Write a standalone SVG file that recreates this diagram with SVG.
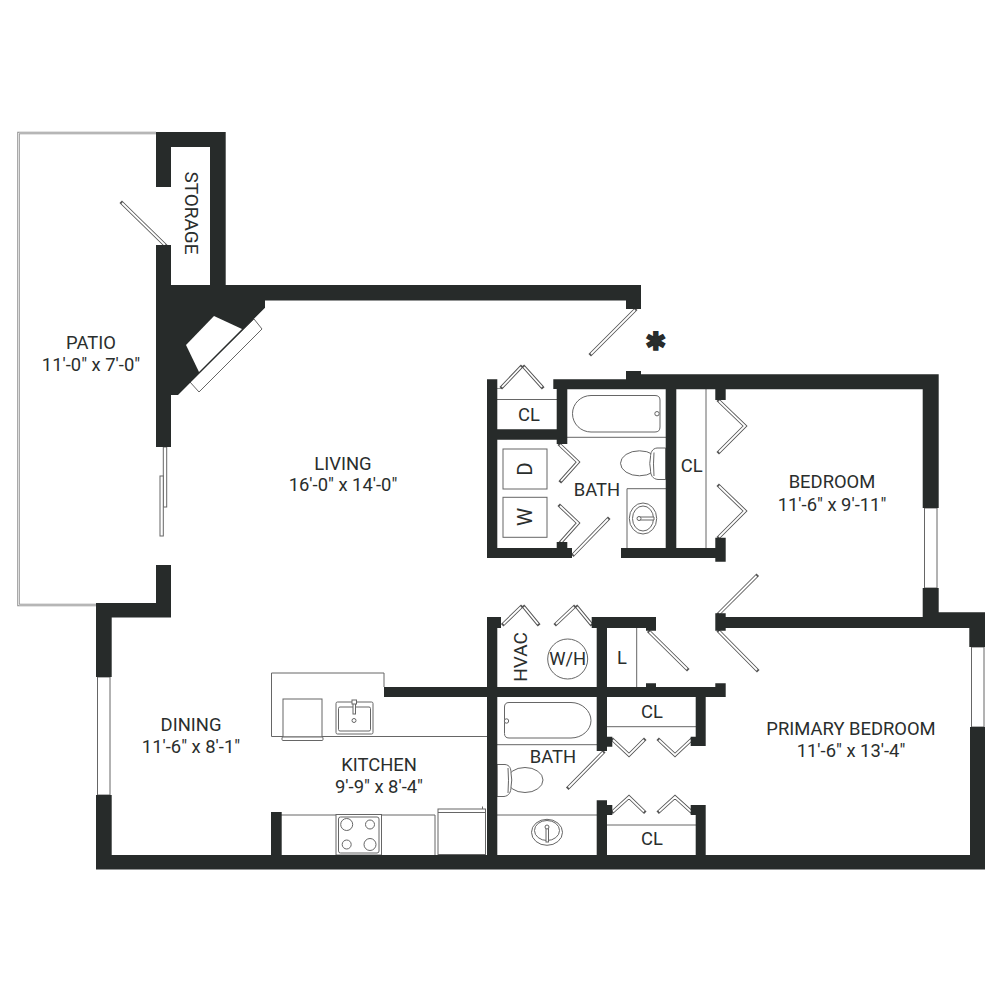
<svg xmlns="http://www.w3.org/2000/svg" width="1000" height="1000" viewBox="0 0 1000 1000">
<style>
.w{fill:#272b2a}
.h{fill:#fff}
.f{fill:#fff;stroke:#666;stroke-width:1}
.l{fill:none;stroke:#666;stroke-width:1}
.lo{fill:none;stroke:#555;stroke-width:3.6;stroke-linecap:square;stroke-linejoin:miter}
.li{fill:none;stroke:#fff;stroke-width:1.8}
text{font-family:Roboto,"Liberation Sans",sans-serif;font-size:18.400px;fill:#2a2e2d;text-anchor:middle}
.r{font-size:19px}
.a{font-size:20.500px}
</style>
<defs>
<path id="leaves" d="M122 203L165 245M635 310L591 354M502 387L521 367M524 367L542 387M560 445L578 462L561 481M560 506L578 523L561 542M573.500 554.500L608 519M719 401L745 426L719 452M719 486L745 511L719 537M719 613.500L756.500 576M719 631.500L757 670M503.500 624L521 607M524 607L538 624M556 624L574 607M577 607L591 624M649.500 632L687 669M603 752.500L568.500 787.500M613 740L629 755L644 740M659 740L675 755L691 740M613 811.500L629 797L644 811.500M659 811.500L675 797L691 811.500"/>
</defs>
<g id="patio-rail">
<path d="M156 133H18.500V605H96" fill="none" stroke="#8f8f8f" stroke-width="2.500"/>
<path d="M156 133H18.500V605H96" fill="none" stroke="#fff" stroke-width="0.700"/>
</g>
<g id="fixtures">
<path class="l" d="M384 687V673H271.500V736.500H487"/>
<rect class="f" x="283" y="699" width="39" height="38"/>
<rect class="f" x="282" y="737" width="41" height="3.500" rx="1"/>
<rect class="f" x="336" y="702" width="37" height="32" rx="1.500"/>
<rect class="f" x="338.500" y="707" width="32" height="24" rx="1.500"/>
<rect class="f" x="353" y="701" width="2.500" height="13"/>
<rect class="f" x="352" y="700" width="4.500" height="4"/>
<circle class="f" cx="354" cy="720.500" r="2"/>
<path class="l" d="M281 815H435V855"/>
<rect class="f" x="336" y="814.500" width="45.500" height="40.500"/>
<rect class="f" x="338.500" y="817" width="40.500" height="36" rx="2"/>
<circle class="f" cx="346.700" cy="824.500" r="6"/>
<circle class="f" cx="370" cy="824.500" r="4.500"/>
<circle class="f" cx="346.700" cy="844.500" r="4.500"/>
<circle class="f" cx="370" cy="844.500" r="6"/>
<rect class="f" x="438" y="809" width="47.500" height="45.500"/>
<path class="l" d="M438 812.500H485.500M482.500 809V806.500"/>
<path class="l" d="M497 399.500H557M567 437.300H666M706 389V548M627 548V488.700H666"/>
<path class="f" d="M591 395.500H655Q660 395.500 660 400V427Q660 432 655 432H591C581 432 572.500 424 572.500 413.700S581 395.500 591 395.500Z"/>
<circle class="f" cx="657" cy="413.700" r="2.200"/>
<ellipse class="f" cx="639.500" cy="463.300" rx="19" ry="12.500"/>
<path class="f" d="M665.700 448H657C652 448.500 650.500 453 650.500 457Q649 463.500 650.500 470C650.500 475 652.500 479 658 479.500H665.700Z"/>
<path class="l" d="M654 452.500Q653 463.500 654 476"/>
<ellipse class="f" cx="643" cy="518.500" rx="13.700" ry="15.500"/>
<ellipse class="f" cx="643" cy="518.500" rx="10.500" ry="12.500"/>
<path class="f" d="M638 517H654V520H638Z"/>
<circle class="f" cx="639" cy="518.500" r="2"/>
<rect class="f" x="503" y="449" width="44" height="40"/>
<rect class="f" x="503" y="497.300" width="44" height="40"/>
<path class="l" d="M636.700 628V687M497 744.700H597M497 815H597M607 726.700H696M607 825H696"/>
<path class="f" d="M509 702.500H571C582 702.500 591 711 591 720.500S582 738 571 738H509Q504.500 738 504.500 733.500V707Q504.500 702.500 509 702.500Z"/>
<circle class="f" cx="506.500" cy="721" r="2.200"/>
<ellipse class="f" cx="525" cy="780" rx="18" ry="12.500"/>
<path class="f" d="M497 764.500H505C510 765 511 769 511 773Q512.500 780 511 787C511 792 509 796 504 796.500H497Z"/>
<path class="l" d="M508 768Q509 780 508 793"/>
<ellipse class="f" cx="547" cy="832.300" rx="15.500" ry="13"/>
<ellipse class="f" cx="547" cy="830.500" rx="12.500" ry="10"/>
<rect class="f" x="546" y="827" width="2.500" height="15"/>
<circle class="f" cx="547" cy="827" r="2"/>
<circle class="f" cx="567.700" cy="659" r="20"/>
<path class="f" d="M254 319L262 329L199 392L190 382Z"/>
<rect class="f" x="163.300" y="447" width="3.400" height="60"/>
<rect class="f" x="160" y="476" width="3.300" height="60"/>
<rect class="f" x="97.500" y="677" width="12.500" height="118"/>
<rect class="f" x="924.500" y="508" width="12.500" height="80"/>
<rect class="f" x="971.500" y="647" width="12.500" height="80"/>
</g>
<g id="door-leaves">
<use href="#leaves" class="lo"/>
<use href="#leaves" class="li"/>
</g>
<g id="walls">
<path class="w" d="M156 132H225.700V285H626V285H641V309H626V300.500H265V307.700L178 395H171V447H156V245H171V285H210V147H171V187H156Z"/>
<path class="h" d="M214 316L242 329L199 372L186 345Z"/>
<path class="w" d="M156 565H171V617.500H111.700V677H96V603H156Z"/>
<path class="w" d="M96 795H111.700V855H271V812H281.700V855H970V727H985V869.500H96Z"/>
<path class="w" d="M487 379.300H497.300V388.500H501.700V389H497.300V429.300H556.700V389H553.300V379.300H626V371H641V374.300H938.700V508H922.700V389.300H725.700V400H715.300V389.300H676.300V548H715.300V537.700H725.700V561.700H715.300V558H621V548H665.700V389.300H567.300V444H556.700V439.700H497.300V548H556.700V542H567.300V548H572V558H487Z"/>
<path class="w" d="M922.700 588H938.700V612.300H985V647H969.300V628H725.700V630.700H715.300V613.300H725.700V617H922.700Z"/>
<path class="w" d="M487 617H501V628H497.300V687H591.700H596.700V628H591.700V617H656V630.700H646V628H607V687H646V683.300H656V687H715.300V683.300H725.700V697H705.700V746H690.700V736.700H695.700V697H607V736.700H612.300V746.700H607V751H596.700V697H497.300V855H596.700V800.300H607V805H612.300V815H607V855H695.700V815H690.700V805H705.700V855H487V697H384V687H487Z"/>
</g>
<g id="labels">
<text x="91" y="349">PATIO</text><text x="91" y="371">11'-0" x 7'-0"</text>
<text class="r" transform="translate(185,213) rotate(90)">STORAGE</text>
<text x="343" y="470">LIVING</text><text x="343" y="491">16'-0" x 14'-0"</text>
<text x="832" y="488">BEDROOM</text><text x="832" y="511">11'-6" x 9'-11"</text>
<text x="851" y="735">PRIMARY BEDROOM</text><text x="851" y="757">11'-6" x 13'-4"</text>
<text x="191" y="731">DINING</text><text x="191" y="753">11'-6" x 8'-1"</text>
<text x="379" y="771">KITCHEN</text><text x="379" y="793">9'-9" x 8'-4"</text>
<text x="597" y="496">BATH</text><text x="553" y="763">BATH</text>
<text x="529" y="421">CL</text><text x="691.700" y="472">CL</text>
<text x="652" y="718">CL</text><text x="652" y="845">CL</text>
<text x="622" y="664">L</text><text x="567.700" y="665">W/H</text>
<text class="r" transform="translate(527,657) rotate(-90)">HVAC</text>
<text class="a" transform="translate(532,469) rotate(-90)">D</text>
<text class="a" transform="translate(532,517) rotate(-90)">W</text>
<text x="656" y="349.500" style="font-family:'DejaVu Sans',sans-serif;font-size:25px;stroke:#272b2a;stroke-width:1.500">✱</text>
</g>
</svg>
